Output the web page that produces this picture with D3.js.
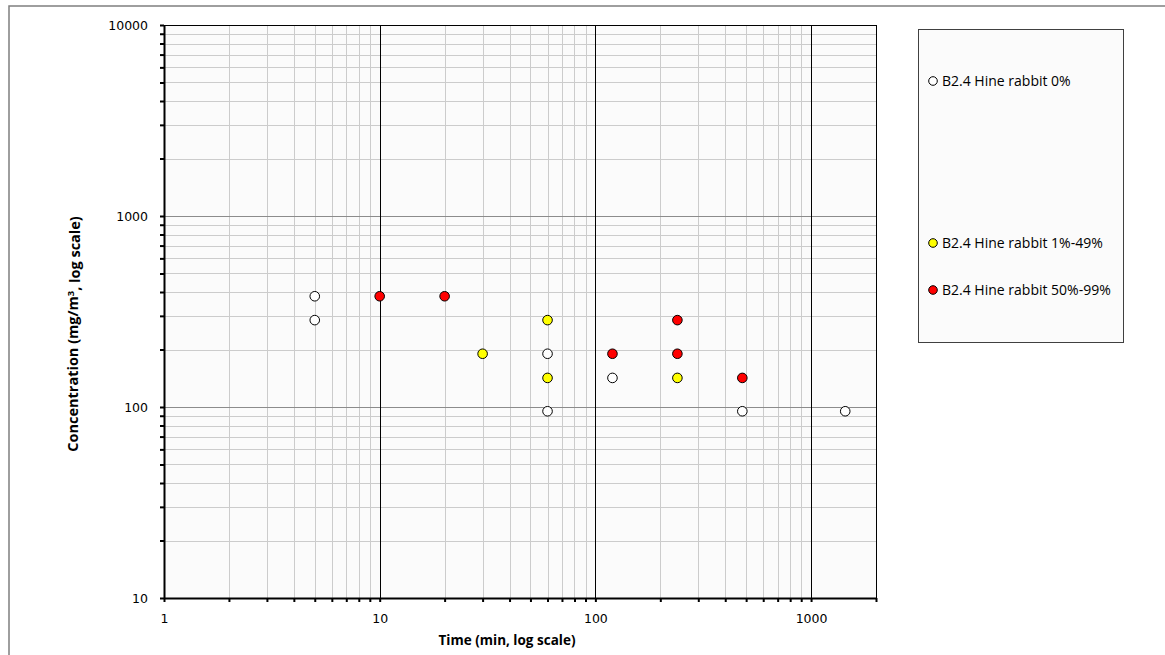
<!DOCTYPE html>
<html>
<head>
<meta charset="utf-8">
<script src="https://cdn.jsdelivr.net/npm/d3@7"></script>
<style>
  body { margin: 0; background: #fff; }
  svg { display: block; }
</style>
</head>
<body>
<div id="chart"></div>
<script>
// series: [time (min), concentration (mg/m3)]
const series0 = [[5, 380], [5, 285], [60, 190], [60, 95], [120, 142], [480, 95], [1440, 95]];
const series1 = [[30, 190], [60, 285], [60, 142], [240, 142]];
const series2 = [[10, 380], [20, 380], [120, 190], [240, 285], [240, 190], [480, 142]];
const seriesNames = ["B2.4 Hine rabbit 0%", "B2.4 Hine rabbit 1%-49%", "B2.4 Hine rabbit 50%-99%"];
const seriesColors = ["#ffffff", "#ffff00", "#ff0000"];
const xTickLabels = [1, 10, 100, 1000];
const yTickLabels = [10, 100, 1000, 10000];

const W = 1165, H = 655;
const plot = {left: 164, right: 876, top: 25, bottom: 598};

const svg = d3.select("#chart").append("svg")
  .attr("width", W).attr("height", H);

// outer chart frame (only top/left visible)
svg.append("rect")
  .attr("x", 9).attr("y", 6)
  .attr("width", W + 20).attr("height", H + 20)
  .attr("fill", "#fff")
  .attr("stroke", "#7f7f7f").attr("stroke-width", 1.5);

const x = d3.scaleLog().domain([1, 2000]).range([plot.left, plot.right]);
const y = d3.scaleLog().domain([10, 10000]).range([plot.bottom, plot.top]);

// plot background
svg.append("rect")
  .attr("x", plot.left).attr("y", plot.top)
  .attr("width", plot.right - plot.left).attr("height", plot.bottom - plot.top)
  .attr("fill", "#fbfbfb");

// minor tick values
const xMinor = [], yMinor = [];
[1, 10, 100, 1000].forEach(d => { for (let k = 2; k <= 9; k++) if (d * k <= 2000) xMinor.push(d * k); });
[10, 100, 1000].forEach(d => { for (let k = 2; k <= 9; k++) yMinor.push(d * k); });

const grid = svg.append("g").attr("class", "grid");
grid.selectAll(".xminor").data(xMinor).enter().append("line")
  .attr("x1", d => Math.round(x(d)) + 0.5).attr("x2", d => Math.round(x(d)) + 0.5)
  .attr("y1", plot.top).attr("y2", plot.bottom)
  .attr("stroke", "#cccccc").attr("stroke-width", 1);
grid.selectAll(".yminor").data(yMinor).enter().append("line")
  .attr("y1", d => Math.round(y(d)) + 0.5).attr("y2", d => Math.round(y(d)) + 0.5)
  .attr("x1", plot.left).attr("x2", plot.right)
  .attr("stroke", "#cccccc").attr("stroke-width", 1);
// major horizontal gridlines gray
grid.selectAll(".ymajor").data([100, 1000]).enter().append("line")
  .attr("y1", d => Math.round(y(d)) + 0.5).attr("y2", d => Math.round(y(d)) + 0.5)
  .attr("x1", plot.left).attr("x2", plot.right)
  .attr("stroke", "#8c8c8c").attr("stroke-width", 1);
// major vertical gridlines black
grid.selectAll(".xmajor").data([10, 100, 1000]).enter().append("line")
  .attr("x1", d => Math.round(x(d)) + 0.5).attr("x2", d => Math.round(x(d)) + 0.5)
  .attr("y1", plot.top).attr("y2", plot.bottom)
  .attr("stroke", "#000").attr("stroke-width", 1);
// top and right border
svg.append("line").attr("x1", plot.left).attr("x2", plot.right)
  .attr("y1", plot.top + 0.5).attr("y2", plot.top + 0.5).attr("stroke", "#000");
svg.append("line").attr("x1", plot.right + 0.5).attr("x2", plot.right + 0.5)
  .attr("y1", plot.top).attr("y2", plot.bottom).attr("stroke", "#000");

// axes
const xAxis = d3.axisBottom(x)
  .tickValues(xTickLabels.concat(xMinor))
  .tickSize(4).tickSizeOuter(0)
  .tickFormat(d => xTickLabels.includes(d) ? d : "");
const gx = svg.append("g").attr("transform", `translate(0,${plot.bottom})`).call(xAxis);
gx.select(".domain").attr("stroke-width", 2);
gx.selectAll(".tick line").attr("stroke-width", 2);
gx.selectAll("text").attr("dy", "1.4em")
  .style("font-family", "DejaVu Sans, Verdana, sans-serif").style("font-size", "12.5px").attr("fill", "#000");

const yAxis = d3.axisLeft(y)
  .tickValues(yTickLabels.concat(yMinor))
  .tickSize(4).tickSizeOuter(0)
  .tickFormat(d => yTickLabels.includes(d) ? d : "");
const gy = svg.append("g").attr("transform", `translate(${plot.left},0)`).call(yAxis);
gy.select(".domain").attr("stroke-width", 2);
gy.selectAll(".tick line").attr("stroke-width", 2);
gy.selectAll("text").attr("x", -16)
  .style("font-family", "DejaVu Sans, Verdana, sans-serif").style("font-size", "12.5px").attr("fill", "#000");

// axis titles
svg.append("text")
  .attr("x", 507).attr("y", 645)
  .attr("text-anchor", "middle")
  .style("font-family", "Open Sans, sans-serif").style("font-size", "13.5px").style("font-weight", "bold")
  .text("Time (min, log scale)");

const yt = svg.append("text")
  .attr("transform", "translate(78,334) rotate(-90)")
  .attr("text-anchor", "middle")
  .style("font-family", "Open Sans, sans-serif").style("font-size", "14.5px").style("font-weight", "bold");
yt.append("tspan").text("Concentration (mg/m");
yt.append("tspan").attr("dy", "-0.4em").style("font-size", "9.5px").text("3");
yt.append("tspan").attr("dy", "0.4em").text(", log scale)");

// points
const allSeries = [series0, series1, series2];
allSeries.forEach((s, i) => {
  svg.append("g").selectAll("circle").data(s).enter().append("circle")
    .attr("cx", d => x(d[0])).attr("cy", d => y(d[1]))
    .attr("r", 4.8)
    .attr("fill", seriesColors[i])
    .attr("stroke", "#000").attr("stroke-width", 1);
});

// legend
const legend = svg.append("g");
legend.append("rect")
  .attr("x", 918.5).attr("y", 29.5).attr("width", 205).attr("height", 313)
  .attr("fill", "#fbfbfb").attr("stroke", "#404040").attr("stroke-width", 1);
const legendY = [81, 243, 290];
seriesNames.forEach((name, i) => {
  legend.append("circle")
    .attr("cx", 933).attr("cy", legendY[i]).attr("r", 4.3)
    .attr("fill", seriesColors[i]).attr("stroke", "#000").attr("stroke-width", 1);
  legend.append("text")
    .attr("x", 942).attr("y", legendY[i]).attr("dy", "0.35em")
    .style("font-family", "Open Sans, sans-serif").style("font-size", "14px")
    .text(name);
});
</script>
</body>
</html>
